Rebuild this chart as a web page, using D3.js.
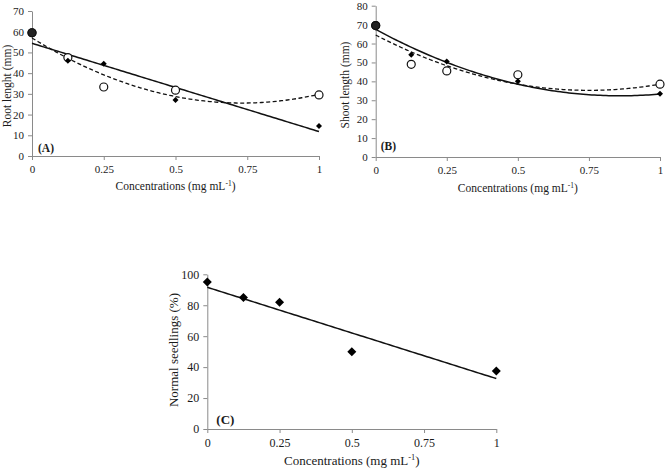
<!DOCTYPE html>
<html>
<head>
<meta charset="utf-8">
<script src="https://cdn.jsdelivr.net/npm/d3@7"></script>
<style>
  html, body { margin: 0; padding: 0; background: #fff; }
  svg { display: block; }
  text { font-family: "Liberation Serif", "Times New Roman", serif; fill: #1a1a1a; }
</style>
</head>
<body>
<svg id="chart" width="667" height="471"></svg>
<script>
// ---------- data ----------
const concentrations = [0, 0.125, 0.25, 0.5, 1];
const xTicks = [0, 0.25, 0.5, 0.75, 1];
const xTickLabels = ["0", "0.25", "0.5", "0.75", "1"];

// Panel A: root length (mm)
const rootFilled = [59, 46, 44.5, 27, 14.5];
const rootOpen = [59.5, 47.5, 33.3, 31.8, 29.5];
const rootTicks = [0, 10, 20, 30, 40, 50, 60, 70];
const rootSolidFit = [54.4, -42.6];        // linear trendline coefficients
const rootDashedFit = [57, -86, 58.8];     // quadratic trendline coefficients

// Panel B: shoot length (mm)
const shootFilled = [69.5, 54, 50.5, 40, 33.5];
const shootOpen = [69.5, 49, 45.5, 43.5, 38.5];
const shootTicks = [0, 10, 20, 30, 40, 50, 60, 70, 80];
const shootSolidFit = [67.5, -81.8, 47.6];
const shootDashedFit = [64.5, -78, 52];

// Panel C: normal seedlings (%)
const seedlingsFilled = [95, 85, 82, 50, 37.5];
const seedlingsTicks = [0, 20, 40, 60, 80, 100];
const seedlingsSolidFit = [91.6, -59];

const svg = d3.select("#chart");

function poly(coefs, x) {
  return coefs.reduce((s, c, i) => s + c * Math.pow(x, i), 0);
}

function panel(cfg) {
  const g = svg.append("g");
  const x = d3.scaleLinear().domain([0, 1]).range([cfg.x0, cfg.x1]);
  const y = d3.scaleLinear().domain([0, cfg.yMax]).range([cfg.yBottom, cfg.yTop]);
  const fs = cfg.fs;

  const xAxis = g.append("g").attr("transform", `translate(0,${cfg.yBottom})`)
    .call(d3.axisBottom(x).tickValues(xTicks).tickFormat((d, i) => xTickLabels[i])
      .tickSize(4).tickPadding(5).tickSizeOuter(0));
  const yAxis = g.append("g").attr("transform", `translate(${cfg.x0},0)`)
    .call(d3.axisLeft(y).tickValues(cfg.yTicks).tickSize(4).tickPadding(4).tickSizeOuter(0));
  [xAxis, yAxis].forEach(a => {
    a.selectAll("path, line").attr("stroke", "#8a8a8a").attr("stroke-width", 1);
    a.selectAll("text").style("font-size", fs + "px").style("font-family", "Liberation Serif").attr("fill", "#1a1a1a");
  });

  // x title with superscript
  const xt = g.append("text").attr("x", (cfg.x0 + cfg.x1) / 2).attr("y", cfg.xTitleY)
    .attr("text-anchor", "middle").style("font-size", cfg.tfs + "px");
  xt.append("tspan").text("Concentrations (mg mL");
  xt.append("tspan").text("-1").attr("dy", -cfg.tfs * 0.35).style("font-size", (cfg.tfs * 0.65) + "px");
  xt.append("tspan").text(")").attr("dy", cfg.tfs * 0.35);

  // y title
  g.append("text").attr("transform", `translate(${cfg.yTitleX},${cfg.yTitleY}) rotate(-90)`)
    .attr("text-anchor", "middle").style("font-size", cfg.tfs + "px").text(cfg.yTitle);

  // panel label
  g.append("text").attr("x", cfg.x0 + cfg.labelDx).attr("y", cfg.labelY)
    .style("font-size", cfg.tfs + "px").style("font-weight", "bold").text(cfg.label);

  // trend lines
  const samples = d3.range(0, 1.0001, 0.01);
  const line = d3.line().x(d => x(d[0])).y(d => y(d[1]));
  cfg.fits.forEach(f => {
    g.append("path").datum(samples.map(s => [s, poly(f.coefs, s)]))
      .attr("d", line).attr("fill", "none").attr("stroke", "#111")
      .attr("stroke-width", f.dashed ? 1.3 : 1.5)
      .attr("stroke-dasharray", f.dashed ? "4,2.5" : null);
  });

  // open circles
  if (cfg.open) {
    g.selectAll(".oc").data(concentrations.map((c, i) => [c, cfg.open[i]])).join("circle")
      .attr("cx", d => x(d[0])).attr("cy", d => y(d[1])).attr("r", cfg.circleR)
      .attr("fill", "#fff").attr("stroke", "#111").attr("stroke-width", 1.2);
  }
  // filled diamonds
  const dsz = cfg.diamond;
  g.selectAll(".fd").data(concentrations.map((c, i) => [c, cfg.filled[i]])).join("path")
    .attr("transform", d => `translate(${x(d[0])},${y(d[1])})`)
    .attr("d", `M0,${-dsz}L${dsz},0L0,${dsz}L${-dsz},0Z`)
    .attr("fill", "#000");
  // darker overlap at x=0 where both markers coincide
  if (cfg.open) {
    g.append("circle").attr("cx", x(concentrations[0])).attr("cy", y(cfg.open[0]))
      .attr("r", cfg.circleR).attr("fill", "#222").attr("stroke", "#111").attr("stroke-width", 1.2);
  }
}

panel({
  x0: 32, x1: 319, yTop: 11, yBottom: 156, yMax: 70, yTicks: rootTicks,
  fs: 11, tfs: 11.5, xTitleY: 190, yTitleX: 10.5, yTitleY: 86, yTitle: "Root lenght (mm)",
  label: "(A)", labelDx: 6, labelY: 152,
  filled: rootFilled, open: rootOpen, circleR: 4, diamond: 3,
  fits: [{ coefs: rootSolidFit, dashed: false }, { coefs: rootDashedFit, dashed: true }]
});

panel({
  x0: 375.7, x1: 660, yTop: 5.7, yBottom: 157, yMax: 80, yTicks: shootTicks,
  fs: 11, tfs: 11.5, xTitleY: 192, yTitleX: 349, yTitleY: 85, yTitle: "Shoot length (mm)",
  label: "(B)", labelDx: 5, labelY: 150,
  filled: shootFilled, open: shootOpen, circleR: 4, diamond: 3,
  fits: [{ coefs: shootSolidFit, dashed: false }, { coefs: shootDashedFit, dashed: true }]
});

panel({
  x0: 207.3, x1: 496.3, yTop: 274.3, yBottom: 429, yMax: 100, yTicks: seedlingsTicks,
  fs: 12, tfs: 13, xTitleY: 465, yTitleX: 178, yTitleY: 350, yTitle: "Normal seedlings (%)",
  label: "(C)", labelDx: 9, labelY: 424,
  filled: seedlingsFilled, open: null, circleR: 0, diamond: 4.5,
  fits: [{ coefs: seedlingsSolidFit, dashed: false }]
});
</script>
</body>
</html>
